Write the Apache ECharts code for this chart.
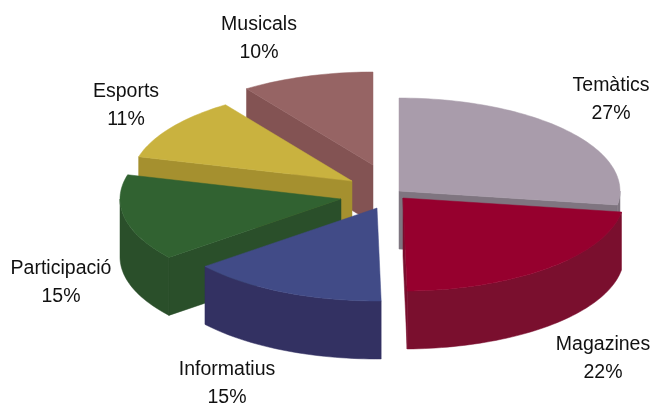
<!DOCTYPE html>
<html><head><meta charset="utf-8">
<style>html,body{margin:0;padding:0;background:#fff}#c{width:653px;height:406px}</style>
<script src="https://cdn.jsdelivr.net/npm/echarts@6/dist/echarts.min.js"></script>
</head><body><div id="c"></div>
<script>
// ---- data ----
const categories = ['Temàtics','Magazines','Informatius','Participació','Esports','Musicals'];
const values = [27.4,22.3,14.5,15.0,11.1,9.7];
// ---- style / layout ----
const topColors  = ['#A99CAB','#96002E','#414B87','#316231','#C9B23F','#966464'];
const wallColors = ['#7F7580','#7A0F2E','#333162','#2A4F2A','#A5902F','#835353'];
const center = {x:372, y:190, rx:221, ry:93, depth:58};
const explode = [[27,1],[31,8],[5,18],[-31,9],[-20,-9],[1,-25]];
const labelAt = [[611,100],[603,359],[227,384],[61,283],[126,106],[259,39]];
const drawOrder = [5,0,4,3,1,2];

const total = values.reduce((a,b)=>a+b,0);
const starts = []; { let acc=0; values.forEach(v=>{starts.push(acc/total*360); acc+=v;}); }
const rad = d=>d*Math.PI/180;
function rim(i,deg,down){
  return [center.x+explode[i][0]+center.rx*Math.sin(rad(deg)),
          center.y+explode[i][1]-center.ry*Math.cos(rad(deg))+(down?center.depth:0)];
}
function apex(i,down){return [center.x+explode[i][0],center.y+explode[i][1]+(down?center.depth:0)];}
function arc(i,a,b,down){const pts=[];const n=Math.max(2,Math.ceil(Math.abs(b-a)/1.5));
  for(let k=0;k<=n;k++)pts.push(rim(i,a+(b-a)*k/n,down));return pts;}
function poly(points,fill){return {type:'polygon',shape:{points},style:{fill,stroke:fill,lineWidth:0.5}};}

function renderItem(params,api){
  const i=api.value(0), s=starts[i], e=s+values[i]/total*360, kids=[];
  const wall=wallColors[i];
  if(Math.sin(rad(s))<0) kids.push(poly([apex(i),rim(i,s),rim(i,s,true),apex(i,true)],wall));
  if(Math.sin(rad(e))>0) kids.push(poly([apex(i),rim(i,e),rim(i,e,true),apex(i,true)],wall));
  const a=Math.max(s,90), b=Math.min(e,270);
  if(a<b) kids.push(poly(arc(i,a,b).concat(arc(i,b,a,true)),wall));
  kids.push(poly([apex(i)].concat(arc(i,s,e)),topColors[i]));
  return {type:'group',children:kids};
}

const chart=echarts.init(document.getElementById('c'),null,{renderer:'canvas'});
chart.setOption({
  animation:false,
  backgroundColor:'#fff',
  series:[{
    type:'custom',coordinateSystem:'none',renderItem,silent:true,
    data:drawOrder.map(i=>[i,values[i]])
  }],
  graphic:categories.map((c,i)=>({
    type:'text',x:labelAt[i][0],y:labelAt[i][1],silent:true,
    style:{text:c+'\n'+Math.round(values[i])+'%',fill:'#111',
      font:'19.5px "Liberation Sans", Arial, sans-serif',lineHeight:28,align:'center',verticalAlign:'middle'}
  }))
});
</script></body></html>
